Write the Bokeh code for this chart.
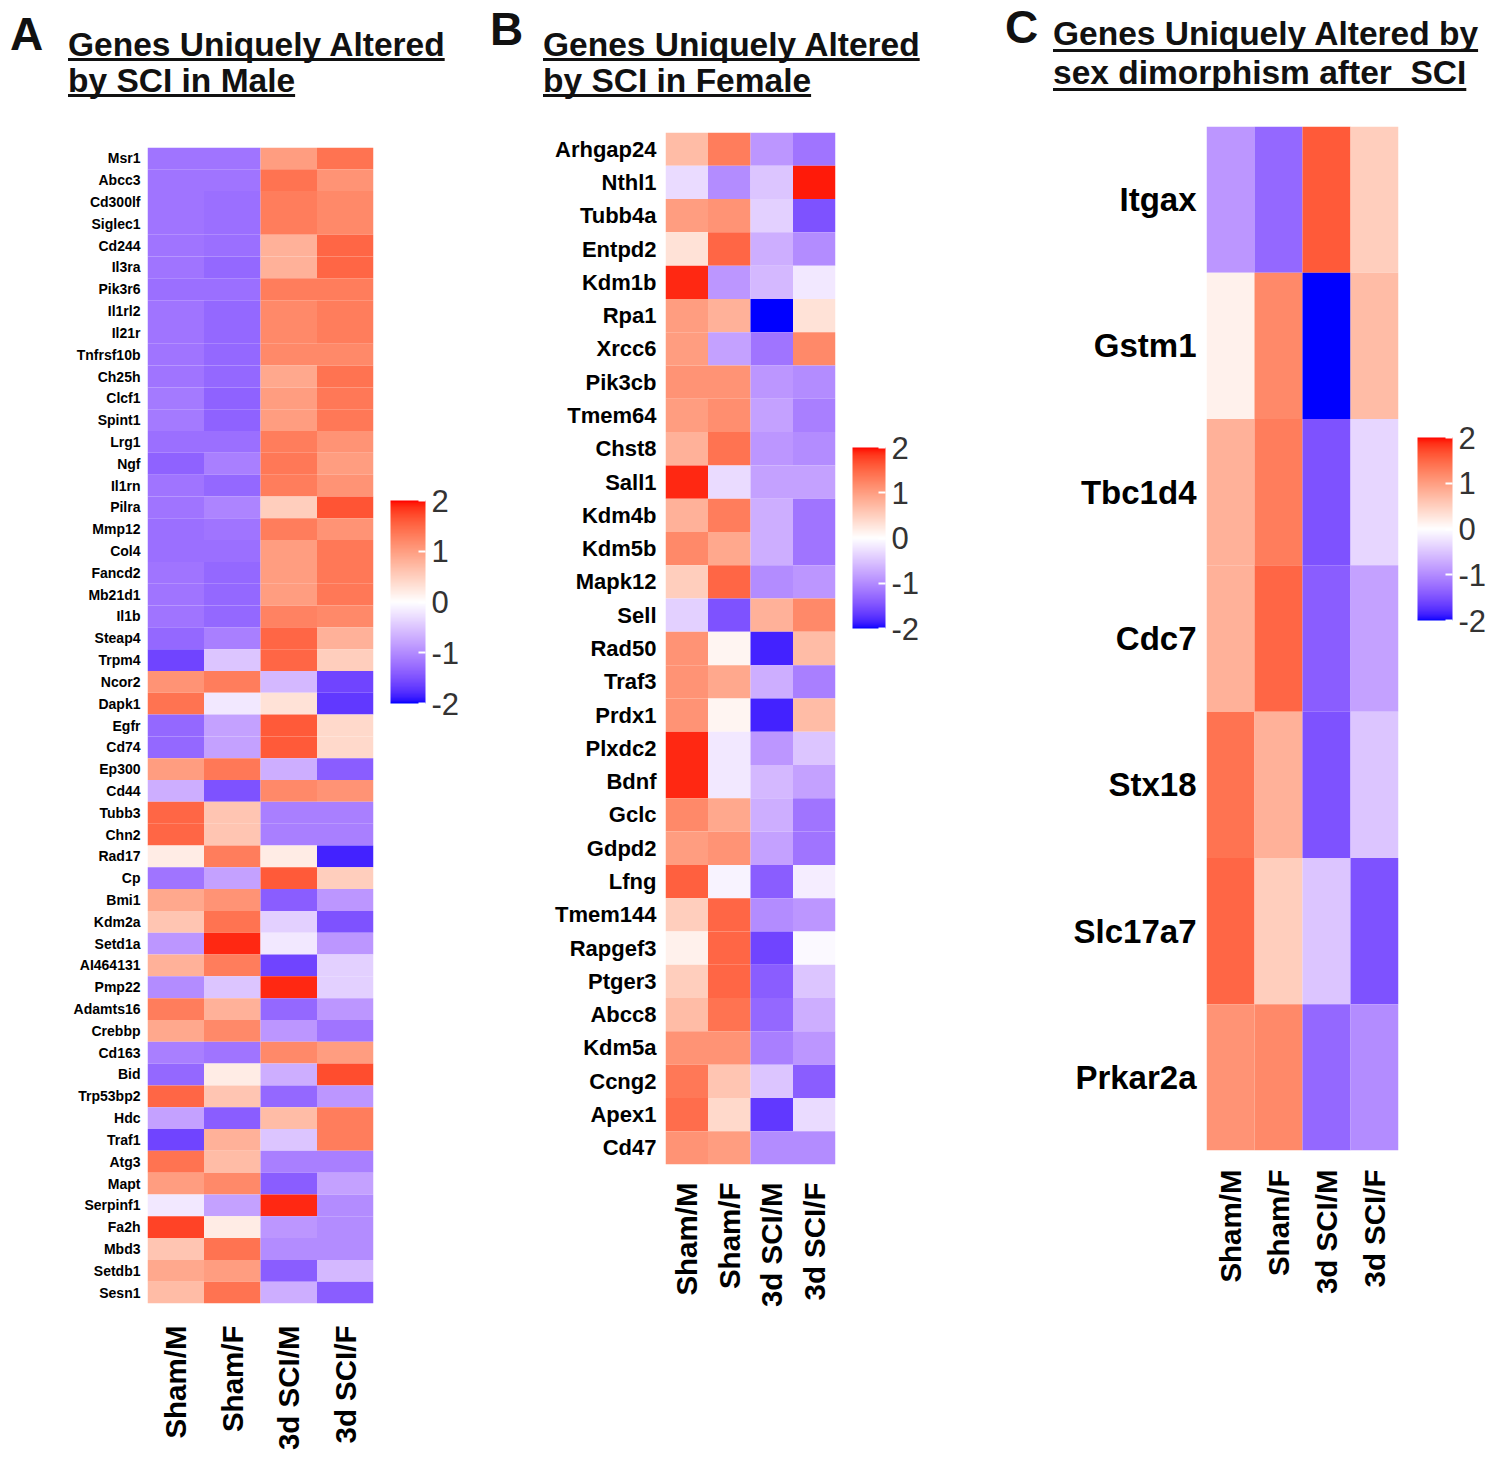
import math
import numpy as np
from bokeh.plotting import figure
from bokeh.models import (ColumnDataSource, LinearColorMapper, ColorBar, FixedTicker,
                          FactorRange, Div, PrintfTickFormatter)
from bokeh.layouts import row, column
from bokeh.embed import file_html
from bokeh.resources import INLINE

# ---------------- data ----------------
conditions = ["Sham/M", "Sham/F", "3d SCI/M", "3d SCI/F"]

genes_a = ["Msr1", "Abcc3", "Cd300lf", "Siglec1", "Cd244", "Il3ra", "Pik3r6", "Il1rl2", "Il21r",
           "Tnfrsf10b", "Ch25h", "Clcf1", "Spint1", "Lrg1", "Ngf", "Il1rn", "Pilra", "Mmp12", "Col4",
           "Fancd2", "Mb21d1", "Il1b", "Steap4", "Trpm4", "Ncor2", "Dapk1", "Egfr", "Cd74", "Ep300",
           "Cd44", "Tubb3", "Chn2", "Rad17", "Cp", "Bmi1", "Kdm2a", "Setd1a", "AI464131", "Pmp22",
           "Adamts16", "Crebbp", "Cd163", "Bid", "Trp53bp2", "Hdc", "Traf1", "Atg3", "Mapt",
           "Serpinf1", "Fa2h", "Mbd3", "Setdb1", "Sesn1"]
sham_m_a = [-1.2, -1.2, -1.2, -1.2, -1.2, -1.2, -1.25, -1.2, -1.2, -1.2, -1.2, -1.15, -1.15, -1.25,
            -1.35, -1.2, -1.2, -1.25, -1.25, -1.2, -1.2, -1.2, -1.3, -1.6, 1.1, 1.4, -1.3, -1.3, 1.0,
            -0.7, 1.5, 1.5, 0.2, -1.2, 0.9, 0.6, -0.9, 0.8, -1.0, 1.3, 0.9, -1.1, -1.3, 1.5, -0.8,
            -1.6, 1.4, 1.0, -0.2, 1.75, 0.6, 0.9, 0.7]
sham_f_a = [-1.2, -1.2, -1.25, -1.25, -1.25, -1.3, -1.25, -1.3, -1.3, -1.3, -1.3, -1.35, -1.35, -1.25,
            -1.1, -1.3, -1.05, -1.2, -1.25, -1.3, -1.3, -1.3, -1.1, -0.5, 1.3, -0.2, -0.8, -0.8, 1.35,
            -1.5, 0.6, 0.6, 1.3, -0.8, 1.1, 1.4, 1.9, 1.3, -0.5, 0.8, 1.2, -1.2, 0.2, 0.6, -1.4,
            0.8, 0.7, 1.2, -0.8, 0.2, 1.4, 1.0, 1.4]
sci_m_a = [1.0, 1.4, 1.3, 1.3, 0.8, 0.8, 1.3, 1.2, 1.2, 1.2, 0.9, 1.0, 1.0, 1.3,
           1.35, 1.3, 0.5, 1.3, 1.0, 1.0, 1.0, 1.25, 1.5, 1.5, -0.6, 0.3, 1.6, 1.6, -0.7,
           1.2, -1.1, -1.1, 0.2, 1.6, -1.4, -0.4, -0.2, -1.6, 1.9, -1.3, -0.9, 1.2, -0.7, -1.3, 0.7,
           -0.5, -1.1, -1.4, 1.9, -0.9, -1.0, -1.4, -0.7]
sci_f_a = [1.4, 1.1, 1.2, 1.2, 1.5, 1.5, 1.3, 1.3, 1.3, 1.2, 1.4, 1.35, 1.35, 1.1,
           1.0, 1.1, 1.65, 1.1, 1.35, 1.35, 1.35, 1.2, 0.8, 0.5, -1.6, -1.7, 0.4, 0.4, -1.4,
           1.1, -1.1, -1.1, -1.85, 0.5, -0.9, -1.5, -0.9, -0.4, -0.4, -0.9, -1.2, 1.0, 1.7, -0.9, 1.3,
           1.3, -1.1, -0.8, -1.0, -1.0, -1.0, -0.6, -1.4]

genes_b = ["Arhgap24", "Nthl1", "Tubb4a", "Entpd2", "Kdm1b", "Rpa1", "Xrcc6", "Pik3cb", "Tmem64",
           "Chst8", "Sall1", "Kdm4b", "Kdm5b", "Mapk12", "Sell", "Rad50", "Traf3", "Prdx1", "Plxdc2",
           "Bdnf", "Gclc", "Gdpd2", "Lfng", "Tmem144", "Rapgef3", "Ptger3", "Abcc8", "Kdm5a",
           "Ccng2", "Apex1", "Cd47"]
sham_m_b = [0.7, -0.3, 1.0, 0.3, 1.9, 1.0, 1.0, 1.1, 1.0, 0.8, 1.9, 0.8, 1.2, 0.5, -0.4, 1.1, 1.1,
            1.1, 1.9, 1.9, 1.2, 1.0, 1.55, 0.5, 0.15, 0.5, 0.7, 1.1, 1.35, 1.45, 1.1]
sham_f_b = [1.3, -1.0, 1.1, 1.5, -0.9, 0.8, -0.8, 1.1, 1.15, 1.4, -0.3, 1.3, 0.9, 1.5, -1.5, 0.1, 0.9,
            0.1, -0.2, -0.2, 0.9, 1.1, -0.1, 1.5, 1.5, 1.5, 1.4, 1.1, 0.6, 0.4, 1.0]
sci_m_b = [-0.9, -0.5, -0.4, -0.7, -0.6, -2.0, -1.2, -0.9, -0.8, -0.9, -0.8, -0.7, -0.7, -1.0, 0.8,
           -1.85, -0.7, -1.85, -0.9, -0.6, -0.7, -0.8, -1.4, -1.0, -1.6, -1.4, -1.3, -1.1, -0.5,
           -1.7, -1.0]
sci_f_b = [-1.2, 1.95, -1.5, -1.0, -0.2, 0.3, 1.2, -1.0, -1.1, -1.0, -0.8, -1.2, -1.2, -0.9, 1.2,
           0.7, -1.1, 0.7, -0.5, -0.8, -1.2, -1.2, -0.15, -0.9, -0.05, -0.5, -0.7, -0.9, -1.4,
           -0.3, -1.0]

genes_c = ["Itgax", "Gstm1", "Tbc1d4", "Cdc7", "Stx18", "Slc17a7", "Prkar2a"]
sham_m_c = [-0.9, 0.15, 0.8, 0.8, 1.4, 1.5, 1.1]
sham_f_c = [-1.3, 1.2, 1.3, 1.5, 0.8, 0.5, 1.2]
sci_m_c = [1.6, -2.0, -1.5, -1.4, -1.5, -0.5, -1.3]
sci_f_c = [0.5, 0.7, -0.35, -0.8, -0.5, -1.5, -1.0]

colorbar_ticks = [-2, -1, 0, 1, 2]

titles = {
    "A": ["Genes Uniquely Altered", "by SCI in Male"],
    "B": ["Genes Uniquely Altered", "by SCI in Female"],
    "C": ["Genes Uniquely Altered by", "sex dimorphism after  SCI"],
}

# ---------------- colour ramp (blue - white - red, interpolated in Lab) ----------------
def _lin(c):
    c = c / 255.0
    return np.where(c <= 0.04045, c / 12.92, ((c + 0.055) / 1.055) ** 2.4)

def _delin(c):
    c = np.clip(c, 0, 1)
    return np.where(c <= 0.0031308, 12.92 * c, 1.055 * c ** (1 / 2.4) - 0.055)

M = np.array([[0.4124, 0.3576, 0.1805], [0.2126, 0.7152, 0.0722], [0.0193, 0.1192, 0.9505]])
WHITE = np.array([0.95047, 1.0, 1.08883])

def rgb_to_lab(rgb):
    xyz = M @ _lin(np.array(rgb, float)) / WHITE
    f = np.where(xyz > 0.008856, np.cbrt(xyz), 7.787 * xyz + 16 / 116)
    return np.array([116 * f[1] - 16, 500 * (f[0] - f[1]), 200 * (f[1] - f[2])])

def lab_to_hex(lab):
    fy = (lab[0] + 16) / 116
    fx = fy + lab[1] / 500
    fz = fy - lab[2] / 200
    f = np.array([fx, fy, fz])
    xyz = np.where(f ** 3 > 0.008856, f ** 3, (f - 16 / 116) / 7.787) * WHITE
    rgb = _delin(np.linalg.inv(M) @ xyz)
    r, g, b = (np.round(rgb * 255)).astype(int)
    return "#%02x%02x%02x" % (r, g, b)

lab_blue, lab_white, lab_red = rgb_to_lab([0, 0, 255]), rgb_to_lab([255, 255, 255]), rgb_to_lab([255, 0, 0])
palette = []
for t in np.linspace(-1, 1, 256):
    if t < 0:
        lab = lab_white + (lab_blue - lab_white) * (-t)
    else:
        lab = lab_white + (lab_red - lab_white) * t
    palette.append(lab_to_hex(lab))

mapper = LinearColorMapper(palette=palette, low=-2, high=2)

FONT = "Liberation Sans"


def header(letter, lines, width, height, letter_left, letter_base, title_left, base1, line_h,
           ul_offset, fs_t=33.5):
    fs_l = 46
    top_l = letter_base - 0.8465 * fs_l
    top_t = base1 - ((line_h - 1.117 * fs_t) / 2 + 0.905 * fs_t)
    title_html = "<br>".join(lines)
    html = (
        f'<div style="position:relative;width:{width}px;height:{height}px;'
        f'font-family:\'{FONT}\';font-weight:bold;color:#111;">'
        f'<div style="position:absolute;left:{letter_left}px;top:{top_l:.1f}px;'
        f'font-size:{fs_l}px;line-height:{fs_l}px;">{letter}</div>'
        f'<div style="position:absolute;left:{title_left}px;top:{top_t:.1f}px;'
        f'font-size:{fs_t}px;line-height:{line_h}px;white-space:pre;'
        f'text-decoration:underline;text-decoration-thickness:3px;'
        f'text-underline-offset:{ul_offset}px;text-decoration-skip-ink:none;">{title_html}</div>'
        f'</div>'
    )
    return Div(text=html, width=width, height=height, margin=0)


def make_panel(genes, cols, fl, ft, fw, fh, fr, fb, gene_fs, gene_standoff, xlab_fs,
               xlab_standoff):
    xs, ys, vals = [], [], []
    for c, colvals in zip(conditions, cols):
        for g, v in zip(genes, colvals):
            xs.append(c)
            ys.append(g)
            vals.append(v)
    src = ColumnDataSource(dict(cond=xs, gene=ys, val=vals))
    p = figure(frame_width=fw, frame_height=fh, x_range=FactorRange(*conditions),
               y_range=FactorRange(*list(reversed(genes))), output_backend="svg",
               toolbar_location=None, min_border_left=fl, min_border_top=ft,
               min_border_right=fr, min_border_bottom=fb)
    p.rect(x="cond", y="gene", width=1, height=1, source=src,
           fill_color={"field": "val", "transform": mapper}, line_color=None)
    p.outline_line_color = None
    p.grid.visible = False
    for ax in (p.xaxis[0], p.yaxis[0]):
        ax.axis_line_color = None
        ax.major_tick_line_color = None
        ax.minor_tick_line_color = None
        ax.major_tick_in = 0
        ax.major_tick_out = 0
        ax.major_label_text_font = FONT
        ax.major_label_text_font_style = "bold"
        ax.major_label_text_color = "black"
    p.yaxis.major_label_text_font_size = gene_fs
    p.yaxis.major_label_standoff = gene_standoff
    p.xaxis.major_label_text_font_size = xlab_fs
    p.xaxis.major_label_standoff = xlab_standoff
    p.xaxis.major_label_orientation = math.pi / 2
    return p


def add_colorbar(p, frame_left, frame_bottom, cbx, cby_top, cb_w, cb_h):
    cb = ColorBar(color_mapper=mapper, ticker=FixedTicker(ticks=colorbar_ticks),
                  formatter=PrintfTickFormatter(format="%d"),
                  width=cb_w, height=cb_h,
                  location=(cbx - frame_left, frame_bottom - (cby_top + cb_h)),
                  padding=0, margin=0,
                  label_standoff=6, major_label_text_font=FONT,
                  major_label_text_font_size="31px", major_label_text_color="#333333",
                  major_tick_line_color="white", major_tick_in=7, major_tick_out=0,
                  major_tick_line_width=2, minor_tick_line_color=None, bar_line_color=None,
                  background_fill_color=None, border_line_color=None)
    p.add_layout(cb)


# ---- panel A : page x 0..489, frame x 147..373, y 147..1303
hA = 110
pA = make_panel(genes_a, [sham_m_a, sham_f_a, sci_m_a, sci_f_a], fl=147, ft=147 - hA,
                fw=226, fh=1156, fr=489 - 373, fb=152, gene_fs="14px", gene_standoff=7,
                xlab_fs="29.5px", xlab_standoff=22)
add_colorbar(pA, 147, 1303, 390, 500, 35, 203)
dA = header("A", titles["A"], 489, hA, 10, 50, 68, 57, 36, 2)

# ---- panel B : page x 489..998, frame x 665..835, y 132..1164
hB = 110
pB = make_panel(genes_b, [sham_m_b, sham_f_b, sci_m_b, sci_f_b], fl=665 - 489, ft=132 - hB,
                fw=170, fh=1032, fr=998 - 835, fb=200, gene_fs="22px", gene_standoff=9,
                xlab_fs="29.5px", xlab_standoff=18)
add_colorbar(pB, 665, 1164, 852, 447, 33, 181)
dB = header("B", titles["B"], 509, hB, 1, 45, 54, 57, 36, 2)

# ---- panel C : page x 998..1492, frame x 1206..1398, y 126..1150
hC = 100
pC = make_panel(genes_c, [sham_m_c, sham_f_c, sci_m_c, sci_f_c], fl=1206 - 998, ft=126 - hC,
                fw=192, fh=1024, fr=1492 - 1398, fb=200, gene_fs="33px", gene_standoff=10,
                xlab_fs="29.5px", xlab_standoff=19)
add_colorbar(pC, 1206, 1150, 1417, 437, 35, 183)
dC = header("C", titles["C"], 494, hC, 7, 43, 55, 45, 39, 4)

layout = row(column(dA, pA, spacing=0), column(dB, pB, spacing=0), column(dC, pC, spacing=0),
             spacing=0)
open("out.html", "w").write(file_html(layout, INLINE))
